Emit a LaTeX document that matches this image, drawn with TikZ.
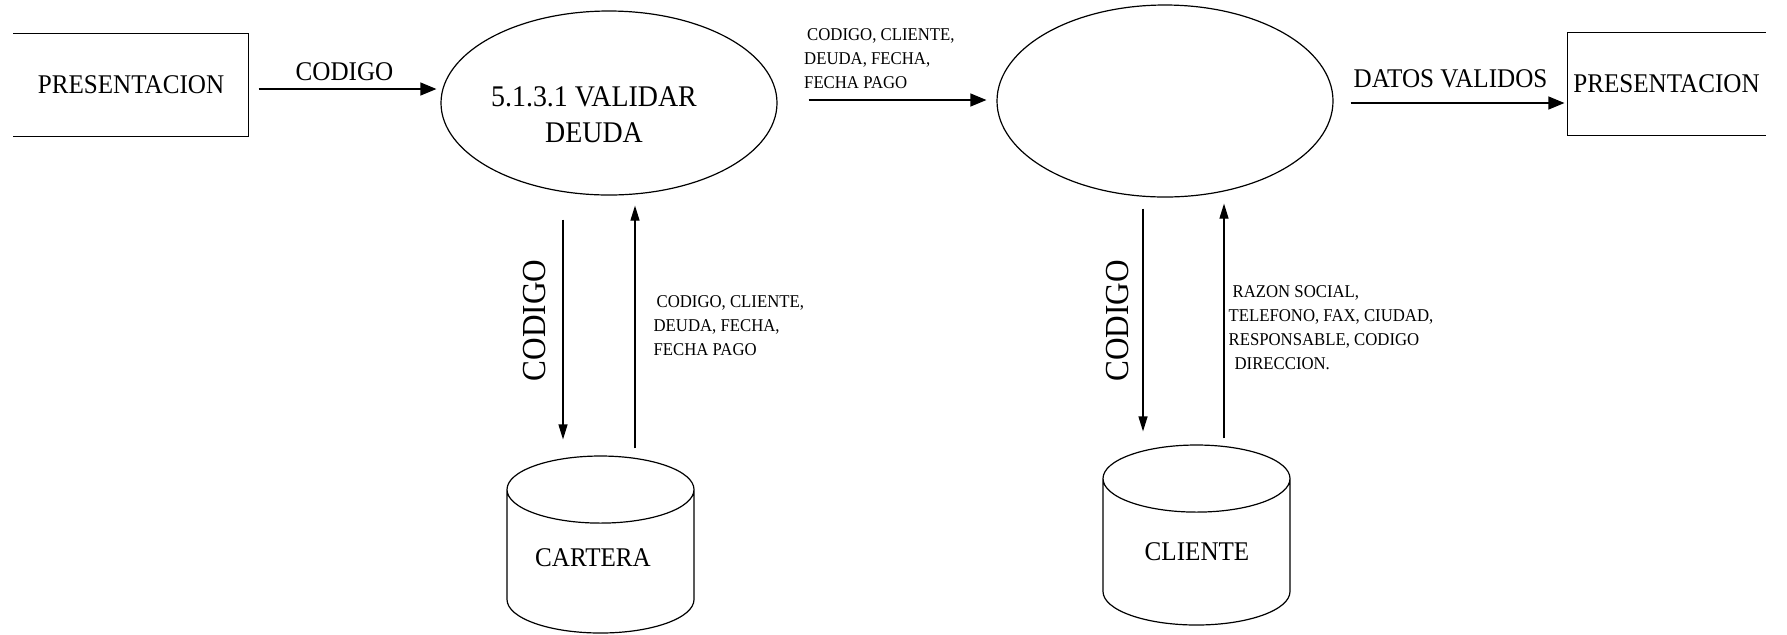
\documentclass[tikz,border=0pt]{standalone}
\usepackage{fontspec}
\setmainfont{Liberation Serif}[FakeStretch=0.93]
\usetikzlibrary{shapes.geometric, arrows.meta}

\begin{document}
\begin{tikzpicture}[x = 0.5pt, y = -0.5pt, line width = 0.6pt,
        big/.style = {font = \fontsize{13.5}{16}\selectfont, inner sep = 0pt},
        small/.style = {font = \fontsize{9}{12}\selectfont, inner sep = 0pt, align = left},
        flow/.style = {-{Triangle[length = 8pt, width = 6.5pt]}},
        store/.style = {-{Triangle[length = 7.5pt, width = 4.5pt]}},
        process/.style = {ellipse, draw, inner sep = 0pt, minimum width = 168pt},
        entity/.style = {big, minimum height = 51pt},
        datastore/.style = {cylinder, draw, shape border rotate = 90, shape aspect = 0.58, big,
            minimum width = 93.5pt, minimum height = 88.5pt, anchor = shape center}]
        \useasboundingbox (0, 0) rectangle (1787, 634);

        \node (pres1) at (131, 85) [entity, minimum width = 117pt] {PRESENTACION};
        \draw (pres1.north west) -- (pres1.north east) -- (pres1.south east) -- (pres1.south west);
        \node (pres2) at (1666.5, 84) [entity, minimum width = 98.5pt] {PRESENTACION};
        \draw (pres2.north east) -- (pres2.north west) -- (pres2.south west) -- (pres2.south east);

        \node (valida) at (609, 103) [process, minimum height = 92pt] {};
        \node (validatxt) at (594, 115) [big, font = \fontsize{15}{18}\selectfont, align = center] {5.1.3.1 VALIDAR\\DEUDA};
        \node (proceso) at (1165, 101) [process, minimum height = 96pt] {};

        \node (cartera) at (600.5, 544.5) [datastore] {\phantom{CARTERA}};
        \node (carteratxt) at (593, 558) [big] {CARTERA};
        \node (cliente) at (1196.5, 535) [datastore, minimum height = 90pt] {\phantom{CARTERA}};
        \node (clientetxt) at (1197, 552) [big] {CLIENTE};

        \coordinate (c1) at ([yshift = -2pt]pres1.east);
        \draw [flow, shorten <= 5pt, shorten >= 2pt] (c1) -- (c1 -| valida.west)
            node [midway, above = 4pt, big] {CODIGO};
        \coordinate (c2) at ([yshift = 1.5pt]valida.east);
        \draw [flow, shorten <= 15.5pt, shorten >= 5pt] (c2) -- (c2 -| proceso.west)
            node [pos = 0, anchor = south west, xshift = 13pt, yshift = 5.5pt, small]
            {\hspace*{1.5pt}CODIGO, CLIENTE,\\DEUDA, FECHA,\\FECHA PAGO};
        \coordinate (c3) at ([yshift = -1pt]proceso.east);
        \draw [flow, shorten <= 8.5pt, shorten >= 1.5pt] (c3) -- (c3 -| pres2.west)
            node [midway, above = 7.5pt, big] {DATOS VALIDOS};

        \coordinate (c4) at ([xshift = -18.75pt]cartera.north);
        \draw [store, shorten <= 12pt, shorten >= 8pt] (c4 |- valida.south) -- (c4)
            node [pos = 0.48, rotate = 90, anchor = south, outer sep = 8.5pt, big, font = \fontsize{16.8}{20}\selectfont] {CODIGO};
        \coordinate (c5) at ([xshift = 17.25pt]cartera.north);
        \draw [store, shorten <= 3.5pt, shorten >= 5pt] (c5) -- (c5 |- valida.south)
            node [midway, right = 9pt, small] {\hspace*{1.5pt}CODIGO, CLIENTE,\\DEUDA, FECHA,\\FECHA PAGO};

        \coordinate (c6) at ([xshift = -26.75pt]cliente.north);
        \draw [store, shorten <= 5.5pt, shorten >= 6.5pt] (c6 |- proceso.south) -- (c6)
            node [midway, rotate = 90, anchor = south, outer sep = 7pt, big, font = \fontsize{16.8}{20}\selectfont] {CODIGO};
        \coordinate (c7) at ([xshift = 13.75pt]cliente.north);
        \draw [store, shorten <= 3pt, shorten >= 3pt] (c7) -- (c7 |- proceso.south)
            node [midway, right = 2pt, yshift = -3.5pt, small] {\hspace*{2pt}RAZON SOCIAL,\\TELEFONO, FAX, CIUDAD,\\RESPONSABLE, CODIGO\\\hspace*{3pt}DIRECCION.};
    \end{tikzpicture}
\end{document}
